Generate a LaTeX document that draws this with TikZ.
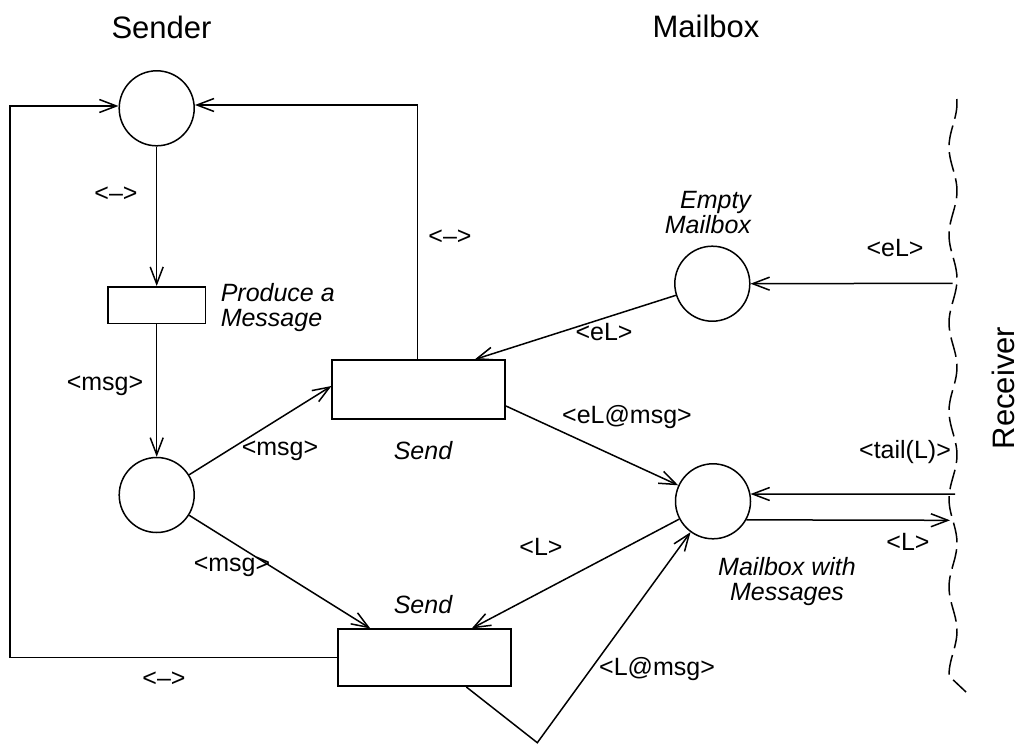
\documentclass[tikz,border=0pt]{standalone}
\usepackage{fontspec}
\setmainfont{Liberation Sans}
\usetikzlibrary{arrows.meta}
\begin{document}
\begin{tikzpicture}[x=1pt,y=-1pt,line width=1.5pt,
  place/.style={circle,draw,minimum size=75pt,inner sep=0pt},
  trans/.style={rectangle,draw,inner sep=0pt},
  lbl/.style={font=\fontsize{25}{25}\selectfont,anchor=base,inner sep=0pt},
  ilbl/.style={font=\fontsize{25}{25}\selectfont\itshape,anchor=base,inner sep=0pt},
  ttl/.style={font=\fontsize{31}{31}\selectfont,anchor=base,inner sep=0pt},
  arc/.style={-{Straight Barb[length=17pt,width=13pt]}},
  bound/.style={dash pattern=on 20pt off 7pt}]
\useasboundingbox (0,0) rectangle (1019,744);
% titles
\node[ttl] (tS) at (161.5,38) {Sender};
\node[ttl] (tM) at (706,37.5) {Mailbox};
\node[ttl,rotate=90] (tR) at (1014.5,388) {Receiver};
% places
\node[place] (P1) at (156.7,108.3) {};
\node[place] (P2) at (156.7,495) {};
\node[place] (E) at (712.3,283.7) {};
\node[place] (M) at (713,501.3) {};
% transitions
\node[trans,minimum width=97.5pt,minimum height=36.5pt] (T0) at (156.7,305) {};
\node[trans,minimum width=173pt,minimum height=59pt] (S1) at (418.7,389.7) {};
\node[trans,minimum width=173pt,minimum height=57pt] (S2) at (424.3,657.7) {};
% helper coordinates
\coordinate (L1) at (10,657.7);
\coordinate (L2) at (10,106);
\coordinate (R1) at (417.7,105);
\coordinate (V) at (537.3,742.7);
\coordinate (Rx1) at (952.7,283.3);
\coordinate (Rx2) at (955,494);
\coordinate (Rx3) at (950,520.3);
% receiver boundary
\draw[bound] plot[smooth,domain=99:676,samples=80,variable=\t] ({953+4*cos(4.0909*(\t-103))},{\t}) -- (966,692);
% arcs
\draw[arc] (P1) -- (T0);
\draw[arc] (T0) -- (P2);
\draw[arc] (P2) -- ([yshift=3.7pt]S1.west);
\draw[arc] (P2) -- ([xshift=-54pt]S2.north);
\draw[arc] ([xshift=-1pt]S1.north) -- (R1) -- ([yshift=3.3pt]P1.east);
\draw[arc] (S2.west) -- (L1) -- (L2) -- ([yshift=2.3pt]P1.west);
\draw[arc] (E) -- ([xshift=56pt]S1.north);
\draw[arc] (Rx1) -- (E.east);
\draw[arc] ([yshift=-16.3pt]S1.east) -- (M);
\draw[arc] (M) -- ([xshift=47.4pt]S2.north);
\draw[arc] ([xshift=42pt]S2.south) -- (V) -- (M);
\draw[arc] (Rx2) -- (M.11);
\draw[arc] (M.-29.5) -- (Rx3);
% arc labels
\node[lbl] (a1) at (116,201) {<\textendash>};
\node[lbl] (a2) at (450,244) {<\textendash>};
\node[lbl] (a3) at (164,686) {<\textendash>};
\node[lbl] (a4) at (105,390) {<msg>};
\node[lbl] (a5) at (280,455) {<msg>};
\node[lbl] (a6) at (232,571.7) {<msg>};
\node[lbl] (a7) at (604,340) {<eL>};
\node[lbl] (a8) at (895,256.7) {<eL>};
\node[lbl] (a9) at (627,423) {<eL@msg>};
\node[lbl] (a10) at (541,555) {<L>};
\node[lbl] (a11) at (908,550) {<L>};
\node[lbl] (a12) at (657,675) {<L@msg>};
\node[lbl] (a13) at (905,458) {<tail(L)>};
% node names (base = baseline of last line)
\node[ilbl,anchor=base west,align=left] (n1) at (220,326.7) {Produce a\\Message};
\node[ilbl] (n2) at (423,459) {Send};
\node[ilbl] (n3) at (423,613) {Send};
\node[ilbl,anchor=base east,align=right] (n4) at (751.7,233.3) {Empty\\Mailbox};
\node[ilbl,align=center] (n5) at (787,600) {Mailbox with\\Messages};
\end{tikzpicture}
\end{document}
